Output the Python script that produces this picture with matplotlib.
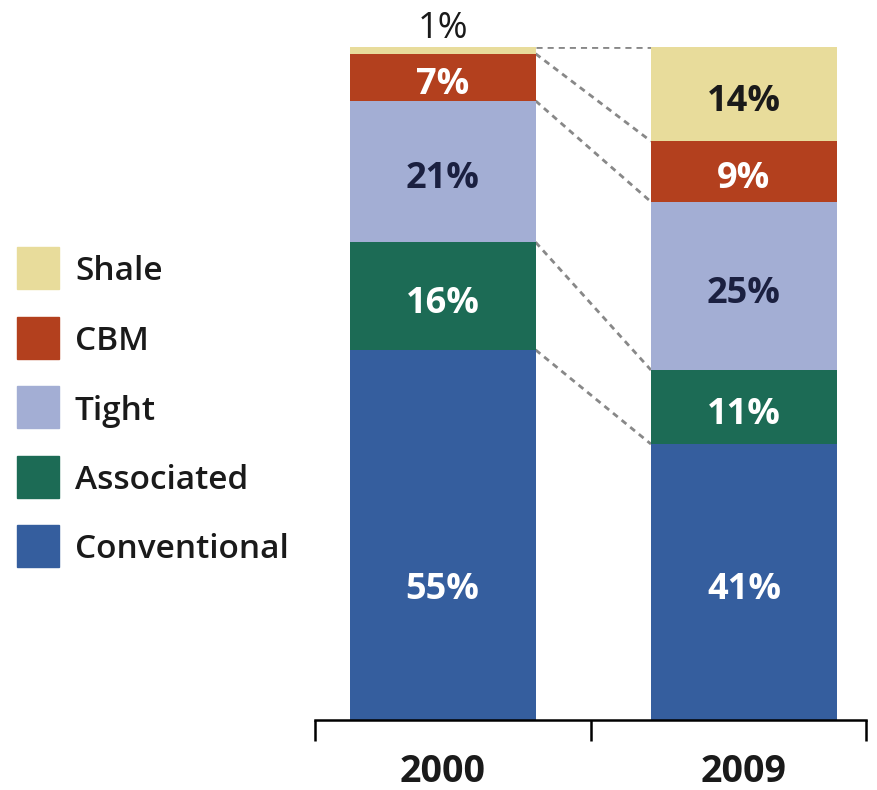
import matplotlib.pyplot as plt
from matplotlib.patches import Rectangle
import numpy as np

plt.rcParams["font.family"] = ["Open Sans", "DejaVu Sans"]

years = ["2000", "2009"]
categories = ["Conventional", "Associated", "Tight", "CBM", "Shale"]
shares_2000 = [55, 16, 21, 7, 1]
shares_2009 = [41, 11, 25, 9, 14]
colors = ["#355E9E", "#1C6B55", "#A3AED4", "#B3401E", "#E8DC9B"]
text_colors = ["white", "white", "#1b2040", "white", "#1a1a1a"]

data = np.array([shares_2000, shares_2009]).T  # rows = categories
x = np.array([0.463, 1.557])
width = 0.675

fig = plt.figure(figsize=(8.78, 7.90), dpi=100)
ax = fig.add_axes([315 / 878, 70 / 790, 551 / 878, 673 / 790])

bottoms = np.zeros(2)
for i, cat in enumerate(categories):
    ax.bar(x, data[i], width, bottom=bottoms, color=colors[i], label=cat,
           zorder=2)
    for j in range(2):
        v = data[i][j]
        if v < 2:
            # too thin, label sits above the bar
            ax.text(x[j], bottoms[j] + v + 2.7, f"{v}%", ha="center",
                    va="center", fontsize=26, color="#1a1a1a", clip_on=False)
            continue
        # bottom row labels share one height
        y = min(data[0]) / 2 if i == 0 else bottoms[j] + v / 2
        ax.text(x[j], y - 0.5, f"{v}%", ha="center", va="center_baseline",
                fontsize=26, fontweight="bold", color=text_colors[i])
    bottoms = bottoms + data[i]

# dashed connectors between segment boundaries
cum = np.cumsum(data, axis=0)
for k in range(len(categories)):
    ax.plot([x[0] + width / 2, x[1] - width / 2], [cum[k][0], cum[k][1]],
            ls=(0, (2.2, 1.8)), color="#888888", lw=2, zorder=1)

ax.set_xlim(0, 2)
ax.set_ylim(0, 100)
for s in ["left", "right", "top"]:
    ax.spines[s].set_visible(False)
ax.spines["bottom"].set_linewidth(1.8)
ax.set_yticks([])
ax.set_xticks(x)
ax.set_xticklabels(years, fontsize=27, fontweight="bold", color="#1a1a1a")
ax.tick_params(axis="x", which="major", length=0, pad=24)
ax.set_xticks([0, 1, 2], minor=True)
ax.tick_params(axis="x", which="minor", length=15, width=1.8,
               direction="out")

# legend, top entry = Shale
W, H = 878, 790
for n, i in enumerate(range(len(categories) - 1, -1, -1)):
    cy = 268 + 69.5 * n
    fig.add_artist(Rectangle((17 / W, 1 - (cy + 21) / H), 42 / W, 42 / H,
                             transform=fig.transFigure, color=colors[i]))
    fig.text(75 / W, 1 - cy / H, categories[i], fontsize=24,
             fontweight="semibold", color="#1a1a1a", va="center_baseline")

fig.savefig("out.png", dpi=100)
